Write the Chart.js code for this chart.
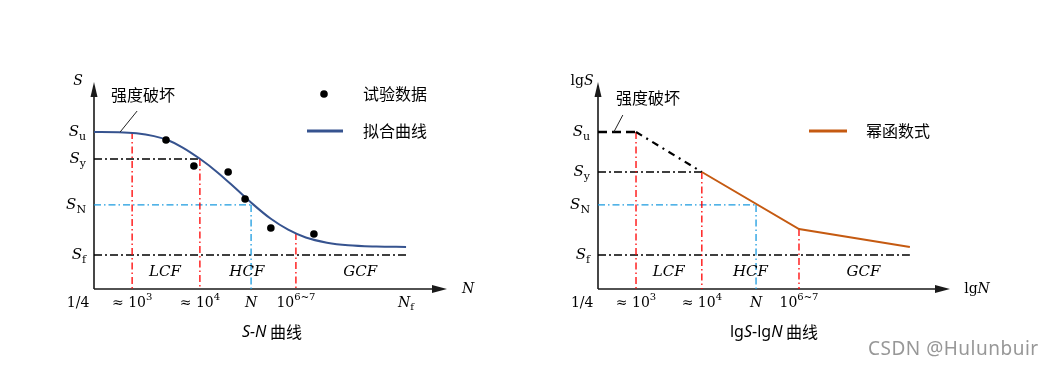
<!DOCTYPE html>
<html>
<head>
<meta charset="utf-8">
<script src="https://cdn.jsdelivr.net/npm/chart.js@4.4.1/dist/chart.umd.min.js"></script>
<style>
  html, body { margin: 0; padding: 0; background: #fff; }
  #wrap { position: relative; width: 1047px; height: 368px; overflow: hidden; }
  canvas { position: absolute; top: 0; }
  #sn { left: 0; }
  #lg { left: 523px; }
</style>
</head>
<body>
<div id="wrap">
  <canvas id="sn" width="523" height="368"></canvas>
  <canvas id="lg" width="524" height="368"></canvas>
</div>
<script>
// ---- S-N chart (left) ----
const snCurveX = [0, 7, 12, 17, 21, 25, 30, 35, 40, 45, 50, 55, 60, 66, 72, 80, 88.4];
const snCurveY = [76.2, 76.1, 75.6, 74.2, 72.2, 68.8, 63.2, 56.6, 49.0, 41.2, 34.2, 28.8, 25.0, 22.5, 21.2, 20.6, 20.4];
const testX = [20.4, 28.3, 38.0, 42.8, 50.1, 62.3];
const testY = [72.3, 59.7, 56.8, 43.7, 29.6, 26.7];
const snTickX = [-4.5, 10.8, 30.0, 44.5, 57.2, 88.4];
const snTickLabels = ['1/4', '≈ 10^3', '≈ 10^4', 'N', '10^{6~7}', 'N_f'];
const snLevelY = [76.2, 63.1, 40.8, 16.5];       // Su, Sy, SN, Sf
const snCutTop = [76.2, 63.1, 40.8, 27.2];       // top of the vertical guides
const snSfEnd = 88.7;

// ---- lgS-lgN chart (right) ----
const lgTickX = [-4.5, 10.8, 29.5, 44.9, 57.1];
const lgTickLabels = ['1/4', '≈ 10^3', '≈ 10^4', 'N', '10^{6~7}'];
const lgLevelY = [76.2, 56.8, 40.8, 16.5];
const lgCutTop = [76.2, 56.8, 40.8, 29.1];
const powerX = [29.5, 57.1, 88.6];
const powerY = [56.8, 29.1, 20.4];
const lgSfEnd = 88.6;

const levelLabels = ['S_u', 'S_y', 'S_N', 'S_f'];
const regionX = [20.1, 43.3, 75.4];
const regionLabels = ['LCF', 'HCF', 'GCF'];
const regionY = 8.3;

const RED = '#ff0000', BLUE = '#1b9be0', BLACK = '#000';
const DASHDOT = [7, 3, 1.5, 3];

function seg(x1, y1, x2, y2, color, dash, width) {
  return {
    data: [{ x: x1, y: y1 }, { x: x2, y: y2 }],
    borderColor: color, borderWidth: width || 1.3, borderDash: dash,
    pointRadius: 0, fill: false, tension: 0, clip: false, order: 2
  };
}

function guides(tickX, cutTop, levelY, sfEnd) {
  // vertical guides at 10^3, 10^4, N, 10^6~7 ; horizontal at Sy, SN, Sf
  return [
    seg(tickX[1], cutTop[0], tickX[1], 0, RED, DASHDOT),
    seg(tickX[2], cutTop[1], tickX[2], 0, RED, DASHDOT),
    seg(tickX[3], cutTop[2], tickX[3], 0, BLUE, DASHDOT),
    seg(tickX[4], cutTop[3], tickX[4], 0, RED, DASHDOT),
    seg(0, levelY[1], tickX[2], levelY[1], BLACK, [8, 3, 2, 3]),
    seg(0, levelY[2], tickX[3], levelY[2], BLUE, DASHDOT),
    seg(0, levelY[3], sfEnd, levelY[3], BLACK, [8, 3, 2, 3])
  ];
}

// text with ^sup / _sub, italic S and N
function parts(str, size) {
  const out = [];
  let i = 0;
  while (i < str.length) {
    const c = str[i];
    if (c === '^' || c === '_') {
      let t;
      if (str[i + 1] === '{') { const j = str.indexOf('}', i); t = str.slice(i + 2, j); i = j + 1; }
      else { t = str[i + 1]; i += 2; }
      out.push({ t, font: Math.round(size * 0.72) + 'px "DejaVu Serif"', dy: c === '^' ? -size * 0.4 : size * 0.35 });
    } else {
      const it = c === 'S' || c === 'N';
      out.push({ t: c, font: (it ? 'italic ' : '') + size + 'px "DejaVu Serif"', dy: 0 });
      i++;
    }
  }
  return out;
}

function rich(ctx, ps, x, y, align) {
  let w = 0;
  ps.forEach(p => { ctx.font = p.font; p.w = ctx.measureText(p.t).width; w += p.w; });
  let cx = align === 'center' ? x - w / 2 : align === 'right' ? x - w : x;
  ctx.textAlign = 'left';
  ctx.textBaseline = 'middle';
  ps.forEach(p => { ctx.font = p.font; ctx.fillText(p.t, cx, y + (p.dy || 0)); cx += p.w; });
}

const CJK = '16px "Noto Sans CJK SC"';

const decor = {
  id: 'decor',
  beforeDatasetsDraw(chart, args, o) {
    const { ctx, chartArea: a } = chart;
    ctx.save();
    ctx.strokeStyle = '#1a1a1a';
    ctx.fillStyle = '#1a1a1a';
    ctx.lineWidth = 1.6;
    ctx.beginPath();
    ctx.moveTo(a.left, a.bottom); ctx.lineTo(a.left, a.top + 10);
    ctx.moveTo(a.left, a.bottom); ctx.lineTo(a.right - 10, a.bottom);
    ctx.stroke();
    ctx.beginPath();
    ctx.moveTo(a.left, a.top - 1); ctx.lineTo(a.left - 3.5, a.top + 14); ctx.lineTo(a.left + 3.5, a.top + 14);
    ctx.closePath(); ctx.fill();
    ctx.beginPath();
    ctx.moveTo(a.right, a.bottom); ctx.lineTo(a.right - 15, a.bottom - 4); ctx.lineTo(a.right - 15, a.bottom + 4);
    ctx.closePath(); ctx.fill();
    ctx.restore();
  },
  afterDatasetsDraw(chart, args, o) {
    const { ctx, chartArea: a, scales: { x, y } } = chart;
    ctx.save();
    ctx.fillStyle = '#000';
    // x tick labels
    o.tickX.forEach((v, i) => rich(ctx, parts(o.tickLabels[i], 14), x.getPixelForValue(v), a.bottom + 14, 'center'));
    // y level labels
    o.levelY.forEach((v, i) => rich(ctx, parts(levelLabels[i], 15), a.left - 8, y.getPixelForValue(v), 'right'));
    // regions
    regionX.forEach((v, i) => rich(ctx, [{ t: regionLabels[i], font: 'italic 15px "DejaVu Serif"' }],
      x.getPixelForValue(v), y.getPixelForValue(regionY), 'center'));
    // axis titles
    rich(ctx, parts(o.yTitle, 14), a.left - 16, a.top - 2, 'center');
    rich(ctx, parts(o.xTitle, 14), a.right + o.xTitleGap, a.bottom, 'center');
    // strength failure note with leader
    const lx = x.getPixelForValue(o.noteX), ly = y.getPixelForValue(o.levelY[0]);
    ctx.strokeStyle = '#222'; ctx.lineWidth = 1;
    ctx.beginPath(); ctx.moveTo(lx, ly); ctx.lineTo(lx + o.noteDx, ly + o.noteDy); ctx.stroke();
    ctx.font = CJK; ctx.textAlign = 'left'; ctx.textBaseline = 'middle';
    ctx.fillText('强度破坏', o.notePos[0], o.notePos[1]);
    // legend
    o.legend.forEach(l => {
      const ds = chart.data.datasets[l.ds];
      if (l.kind === 'point') {
        ctx.fillStyle = '#000';
        ctx.beginPath(); ctx.arc(l.x, l.y, 3.8, 0, Math.PI * 2); ctx.fill();
      } else {
        ctx.strokeStyle = ds.borderColor; ctx.lineWidth = 3;
        ctx.beginPath(); ctx.moveTo(l.x, l.y); ctx.lineTo(l.x2, l.y); ctx.stroke();
      }
      ctx.fillStyle = '#000'; ctx.font = CJK; ctx.textAlign = 'left'; ctx.textBaseline = 'middle';
      ctx.fillText(ds.label, l.tx, l.y);
    });
    // caption
    rich(ctx, o.caption, o.captionX, 332, 'center');
    if (o.watermark) {
      ctx.fillStyle = 'rgba(140,140,140,0.9)';
      ctx.font = '19px "Noto Sans"';
      ctx.letterSpacing = '0.5px';
      ctx.textAlign = 'left';
      ctx.fillText('CSDN @Hulunbuir', 345, 350);
    }
    ctx.restore();
  }
};

function baseOptions(pad, deco) {
  return {
    responsive: false, animation: false, devicePixelRatio: 1,
    layout: { padding: pad },
    scales: {
      x: { type: 'linear', min: 0, max: 100, display: false },
      y: { type: 'linear', min: 0, max: 100, display: false }
    },
    plugins: { legend: { display: false }, tooltip: { enabled: false }, decor: deco }
  };
}

const SANS = '16px "Noto Sans"', SANSI = 'italic 16px "Noto Sans"';

new Chart(document.getElementById('sn'), {
  type: 'line',
  plugins: [decor],
  data: {
    datasets: [
      {
        label: '试验数据', data: testX.map((v, i) => ({ x: v, y: testY[i] })),
        showLine: false, pointRadius: 3.8, pointBackgroundColor: '#000', pointBorderWidth: 0,
        clip: false, order: 0
      },
      {
        label: '拟合曲线', data: snCurveX.map((v, i) => ({ x: v, y: snCurveY[i] })),
        borderColor: '#36538f', borderWidth: 2, pointRadius: 0, fill: false,
        cubicInterpolationMode: 'monotone', clip: false, order: 1
      },
      ...guides(snTickX, snCutTop, snLevelY, snSfEnd)
    ]
  },
  options: baseOptions({ left: 94, right: 76, top: 83, bottom: 79 }, {
    tickX: snTickX, tickLabels: snTickLabels, levelY: snLevelY,
    yTitle: 'S', xTitle: 'N', xTitleGap: 21,
    noteX: 7.4, noteDx: 17, noteDy: -21, notePos: [111, 95],
    legend: [
      { ds: 0, kind: 'point', x: 324, y: 94, tx: 363 },
      { ds: 1, kind: 'line', x: 307, x2: 343, y: 131, tx: 363 }
    ],
    caption: [{ t: 'S-N', font: SANSI }, { t: ' 曲线', font: CJK }], captionX: 272
  })
});

new Chart(document.getElementById('lg'), {
  type: 'line',
  plugins: [decor],
  data: {
    datasets: [
      {
        label: '幂函数式', data: powerX.map((v, i) => ({ x: v, y: powerY[i] })),
        borderColor: '#c55a11', borderWidth: 2, pointRadius: 0, fill: false, tension: 0,
        clip: false, order: 0
      },
      seg(0, lgLevelY[0], lgTickX[1], lgLevelY[0], BLACK, [9, 5], 2.6),
      seg(lgTickX[1], lgLevelY[0], lgTickX[2], lgLevelY[1], BLACK, [7, 5, 2, 5], 2.2),
      ...guides(lgTickX, lgCutTop, lgLevelY, lgSfEnd)
    ]
  },
  options: baseOptions({ left: 75, right: 97, top: 83, bottom: 79 }, {
    tickX: lgTickX, tickLabels: lgTickLabels, levelY: lgLevelY,
    yTitle: 'lgS', xTitle: 'lgN', xTitleGap: 27,
    noteX: 4.5, noteDx: 9, noteDy: -17, notePos: [93, 98],
    legend: [
      { ds: 0, kind: 'line', x: 286, x2: 324, y: 131, tx: 343 }
    ],
    caption: [{ t: 'lg', font: SANS }, { t: 'S', font: SANSI }, { t: '-lg', font: SANS }, { t: 'N', font: SANSI }, { t: ' 曲线', font: CJK }],
    captionX: 251, watermark: true
  })
});
</script>
</body>
</html>
